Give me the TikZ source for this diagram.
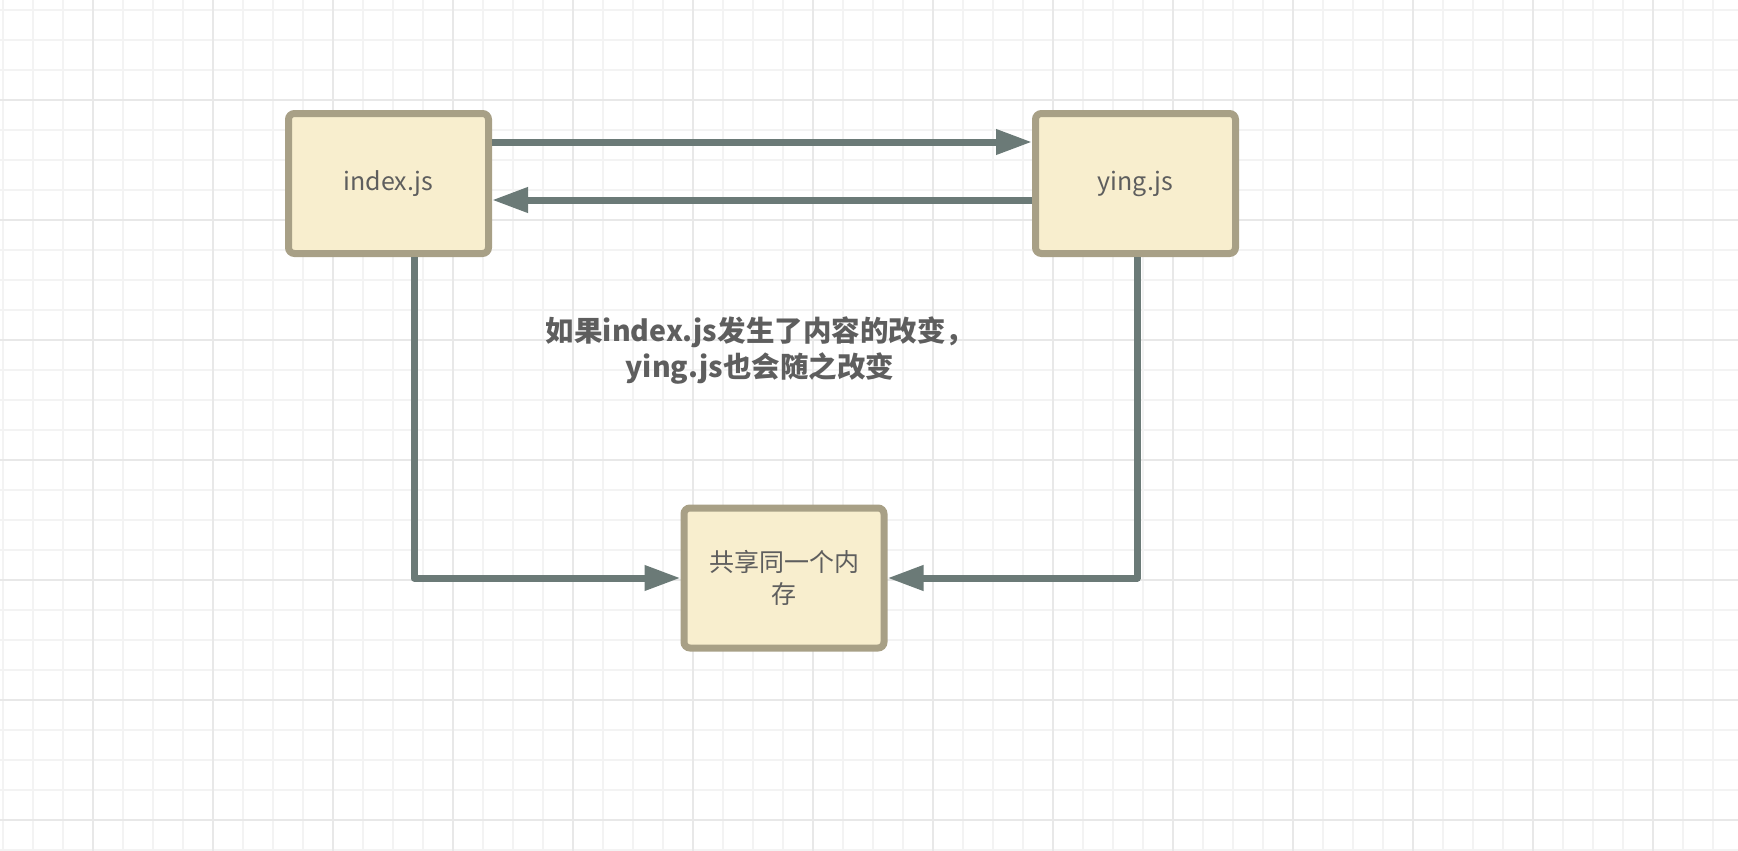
\documentclass[tikz,border=0pt]{standalone}
\usepackage{fontspec}
\setmainfont{Noto Sans CJK SC}
\newfontfamily\cjkfont{Noto Sans CJK SC}
\usetikzlibrary{arrows.meta}
\definecolor{gridminor}{HTML}{F3F3F3}
\definecolor{gridmajor}{HTML}{E8E8E8}
\definecolor{boxfill}{HTML}{F8EECE}
\definecolor{boxborder}{HTML}{A8A086}
\definecolor{arrowcol}{HTML}{6B7A77}
\definecolor{textcol}{HTML}{5E5E5E}
\tikzset{
  memstep/.style={draw=boxborder, fill=boxfill, line width=7pt, rounded corners=6pt,
    minimum width=200pt, minimum height=140pt, outer sep=3.5pt, inner sep=0pt,
    align=center, text=textcol, font=\cjkfont\fontsize{25}{32}\selectfont},
  conn/.style={draw=arrowcol, line width=7pt, line join=round,
    -{Triangle[length=36pt,width=24pt]}},
  note/.style={text=textcol, align=center, font=\cjkfont\bfseries\fontsize{28.5}{36}\selectfont}
}
\begin{document}
\begin{tikzpicture}[x=1pt,y=-1pt]
\useasboundingbox (0,0) rectangle (1738,851);
\fill[white] (0,0) rectangle (1738,851);
% grid
\foreach \x in {3,33,...,1713} \draw[gridminor, line width=1.3pt] (\x,0) -- (\x,851);
\foreach \y in {10,40,...,850} \draw[gridminor, line width=1.3pt] (0,\y) -- (1738,\y);
\foreach \x in {93,213,...,1713} \draw[gridmajor, line width=1.3pt] (\x,0) -- (\x,851);
\foreach \y in {100,220,...,820} \draw[gridmajor, line width=1.3pt] (0,\y) -- (1738,\y);
% nodes
\node[memstep] (index) at (388.5,183.5) {index.js};
\node[memstep] (ying) at (1135.5,183.5) {ying.js};
\node[memstep] (mem) at (784,578) {共享同一个内\\存};
\node[note] (label) at (760,351) {如果index.js发生了内容的改变，\\ying.js也会随之改变};
% connectors
\draw[conn] ([yshift=41.5pt]index.east) -- ([yshift=41.5pt]ying.west);
\draw[conn] ([yshift=-16.5pt]ying.west) -- ([yshift=-16.5pt]index.east);
\draw[conn] ([xshift=25.5pt]index.south) |- (mem.west);
\draw[conn] ([xshift=1.5pt]ying.south) |- (mem.east);
\end{tikzpicture}
\end{document}
